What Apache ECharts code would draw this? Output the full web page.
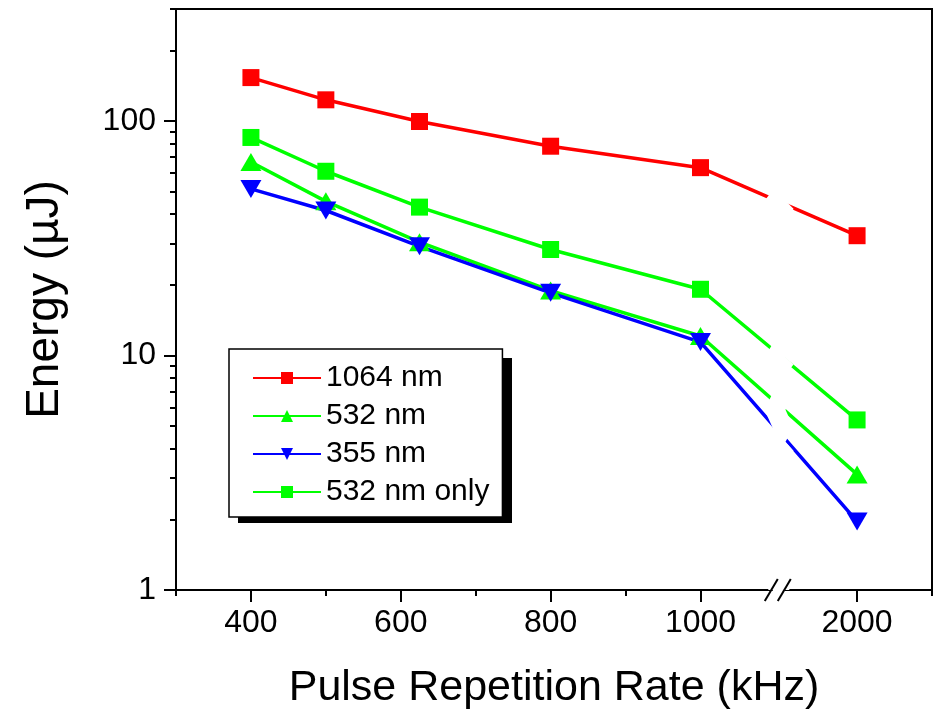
<!DOCTYPE html>
<html><head><meta charset="utf-8">
<script src="https://cdn.jsdelivr.net/npm/echarts@6/dist/echarts.min.js"></script>
<style>html,body{margin:0;padding:0;background:#fff}#c{width:933px;height:715px}</style>
</head><body><div id="c"></div>
<script>
const rates = [400, 500, 625, 800, 1000, 2000];
const e1064 = [153, 123, 99.4, 78, 63.2, 32.4];
const e532 = [66.8, 45.4, 30.4, 18.9, 12.1, 3.11];
const e355 = [51.3, 41.5, 29.2, 18.5, 11.4, 1.96];
const e532only = [85, 61, 42.9, 28.3, 19.15, 5.31];
const seriesNames = ['1064 nm', '532 nm', '355 nm', '532 nm only'];
const xMajorTicks = [400, 600, 800, 1000, 2000];
const xMinorTicks = [300, 500, 700, 900, 2100];
const yMajorTicks = [1, 10, 100];
const yMinorTicks = [2, 3, 4, 5, 6, 7, 8, 9, 20, 30, 40, 50, 60, 70, 80, 90, 200, 300];
const xBreak = { start: 1090, end: 1910, gap: 29 };

const FONT = "'Liberation Sans', Arial, sans-serif";
const pairs = vals => rates.map((r, i) => [r, vals[i]]);

const chart = echarts.init(document.getElementById('c'), null, { renderer: 'canvas' });

const xCommon = {
  type: 'value', min: 300, max: 2100, gridIndex: 0,
  breaks: [xBreak],
  splitLine: { show: false }
};
const yCommon = {
  type: 'log', min: 1, max: 300, logBase: 10, position: 'left', gridIndex: 0,
  splitLine: { show: false }
};

function lineSeries(name, vals, color, symbol, size, rotate) {
  return {
    type: 'line', name, data: pairs(vals),
    xAxisIndex: 0, yAxisIndex: 0,
    symbol, symbolSize: size, symbolRotate: rotate || 0,
    showAllSymbol: true,
    lineStyle: { color, width: 3.5 },
    itemStyle: { color, borderWidth: 0 },
    emphasis: { disabled: true },
    animation: false
  };
}

const LEG = { left: 229, top: 349, w: 274, h: 165, shadow: 9 };

chart.setOption({
  animation: false,
  backgroundColor: '#fff',
  textStyle: { fontFamily: FONT, color: '#000' },
  grid: { left: 176, top: 9, right: 1, bottom: 123, show: true, borderColor: '#000', borderWidth: 2, containLabel: false },
  xAxis: [
    Object.assign({}, xCommon, {
      position: 'bottom',
      breakArea: { show: true, itemStyle: { color: '#fff', borderWidth: 0, opacity: 1 } },
      axisLine: { show: true, lineStyle: { color: '#000', width: 2 } },
      axisTick: { show: true, customValues: xMajorTicks, length: 12, lineStyle: { color: '#000', width: 2 } },
      axisLabel: { customValues: xMajorTicks, fontSize: 32, color: '#000', margin: 17, fontFamily: FONT, formatter: v => String(v) },
      name: 'Pulse Repetition Rate (kHz)', nameLocation: 'middle', nameGap: 77,
      nameTextStyle: { fontSize: 43, color: '#000', fontFamily: FONT }
    }),
    Object.assign({}, xCommon, {
      position: 'bottom',
      breakArea: { show: false },
      axisLine: { show: false },
      axisTick: { show: true, customValues: xMinorTicks, length: 6, lineStyle: { color: '#000', width: 2 } },
      axisLabel: { show: false }
    })
  ],
  yAxis: [
    Object.assign({}, yCommon, {
      axisLine: { show: true, lineStyle: { color: '#000', width: 2 } },
      axisTick: { show: true, customValues: yMajorTicks, length: 12, lineStyle: { color: '#000', width: 2 } },
      axisLabel: { customValues: yMajorTicks, fontSize: 32, color: '#000', margin: 20, fontFamily: FONT },
      name: 'Energy (µJ)', nameLocation: 'middle', nameGap: 108, nameRotate: 90,
      nameTextStyle: { fontSize: 46, color: '#000', fontFamily: FONT }
    }),
    Object.assign({}, yCommon, {
      axisLine: { show: false },
      axisTick: { show: true, customValues: yMinorTicks, length: 6, lineStyle: { color: '#000', width: 2 } },
      axisLabel: { show: false }
    })
  ],
  legend: {
    data: seriesNames,
    orient: 'vertical',
    left: LEG.left, top: LEG.top,
    padding: [14, 13, 10, 23],
    itemWidth: 68, itemHeight: 15, itemGap: 8,
    backgroundColor: '#fff', borderColor: '#000', borderWidth: 1.5, borderRadius: 0,
    textStyle: { fontSize: 30, color: '#000', fontFamily: FONT, lineHeight: 30 },
    selectedMode: false,
    z: 10
  },
  series: [
    lineSeries(seriesNames[0], e1064, '#ff0000', 'rect', 17),
    lineSeries(seriesNames[1], e532, '#00ff00', 'triangle', [21, 18]),
    lineSeries(seriesNames[2], e355, '#0000ff', 'triangle', [21, 18], 180),
    lineSeries(seriesNames[3], e532only, '#00ff00', 'rect', 17)
  ]
});

// decorations: legend drop shadow, frame top edge over the break, and axis-break marks
const x0 = chart.convertToPixel({ xAxisIndex: 0 }, xBreak.start);
const x1 = chart.convertToPixel({ xAxisIndex: 0 }, xBreak.end);
const yBottom = chart.convertToPixel({ yAxisIndex: 0 }, 1);
const yTop = chart.convertToPixel({ yAxisIndex: 0 }, 300);
const cx = (x0 + x1) / 2;
chart.setOption({
  graphic: [
    { type: 'rect', z: 5, silent: true,
      shape: { x: LEG.left + LEG.shadow, y: LEG.top + LEG.shadow, width: LEG.w, height: LEG.h },
      style: { fill: '#000' } },
    { type: 'line', z: 100, silent: true,
      shape: { x1: x0 - 4, y1: yTop, x2: x1 + 4, y2: yTop },
      style: { stroke: '#000', lineWidth: 2 } },
    { type: 'rect', z: 100, silent: true,
      shape: { x: cx - 6, y: yBottom - 3, width: 12, height: 6 },
      style: { fill: '#fff' } },
    { type: 'line', z: 101, silent: true,
      shape: { x1: cx - 14, y1: yBottom + 11, x2: cx - 1, y2: yBottom - 11 },
      style: { stroke: '#000', lineWidth: 2 } },
    { type: 'line', z: 101, silent: true,
      shape: { x1: cx - 1, y1: yBottom + 11, x2: cx + 12, y2: yBottom - 11 },
      style: { stroke: '#000', lineWidth: 2 } }
  ]
});
</script>
</body></html>
